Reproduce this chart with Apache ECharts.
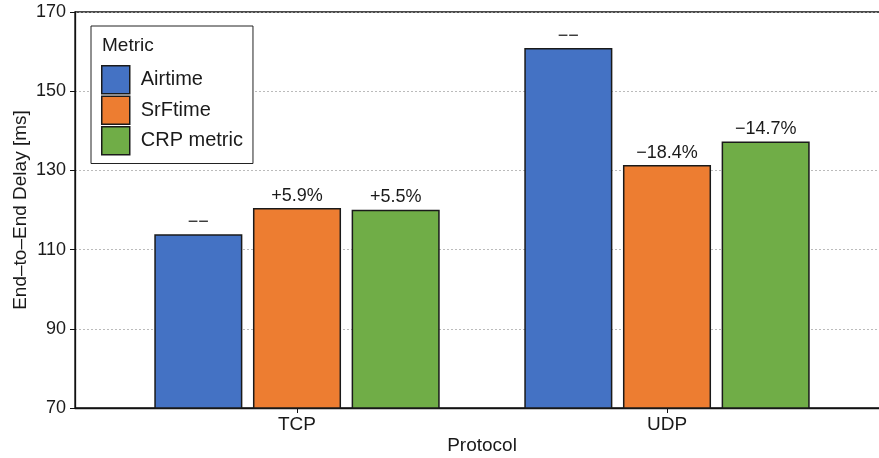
<!DOCTYPE html>
<html><head><meta charset="utf-8">
<script src="https://cdn.jsdelivr.net/npm/echarts@6/dist/echarts.min.js"></script>
<style>html,body{margin:0;padding:0;background:#fff}#c{width:879px;height:458px}</style>
</head><body><div id="c"></div>
<script>
const categories = ['TCP', 'UDP'];
const metrics = ['Airtime', 'SrFtime', 'CRP metric'];
const airtime = [113.7, 160.7];
const srftime = [120.3, 131.2];
const crp = [119.9, 137.1];
const airtimeLabels = ['\u2212\u2212', '\u2212\u2212'];
const srftimeLabels = ['+5.9%', '\u221218.4%'];
const crpLabels = ['+5.5%', '\u221214.7%'];
const yMin = 70, yMax = 170, yStep = 20;

const colors = ['#4472C4', '#ED7D31', '#70AD47'];
const FONT = '"Liberation Sans", Arial, Helvetica, sans-serif';
const slot = 0.8 / 3;
const bw = 0.234;

const seriesValues = [airtime, srftime, crp];
const seriesLabels = [airtimeLabels, srftimeLabels, crpLabels];

function makeRender(k) {
  return function (params, api) {
    const x = api.value(0) + (k - 1) * slot;
    const y = api.value(1);
    const p1 = api.coord([x - bw / 2, y]);
    const p2 = api.coord([x + bw / 2, yMin]);
    return {
      type: 'group',
      children: [
        { type: 'rect', shape: { x: p1[0], y: p1[1], width: p2[0] - p1[0], height: p2[1] - p1[1] },
          style: { fill: colors[k], stroke: '#1a1a1a', lineWidth: 1.5 } },
        { type: 'text', style: { text: seriesLabels[k][params.dataIndex], x: (p1[0] + p2[0]) / 2, y: p1[1] - 4,
          align: 'center', verticalAlign: 'bottom', fontSize: 18, fontFamily: FONT, fill: '#1a1a1a' } }
      ]
    };
  };
}

const chart = echarts.init(document.getElementById('c'), null, { renderer: 'canvas' });
chart.setOption({
  animation: false,
  backgroundColor: '#fff',
  grid: { left: 75, top: 12, height: 396, width: 814, outerBoundsMode: 'none', containLabel: false,
    show: true, borderColor: '#111', borderWidth: 1.3 },
  xAxis: {
    type: 'value', min: -0.6, max: 1.6,
    name: 'Protocol', nameLocation: 'middle', nameGap: 28, nameMoveOverlap: false,
    nameTextStyle: { fontSize: 19, fontFamily: FONT, color: '#1a1a1a' },
    axisLine: { show: true, onZero: false, lineStyle: { color: '#111', width: 1.3 } },
    axisTick: { show: true, length: 5, customValues: [0, 1], lineStyle: { color: '#111' } },
    axisLabel: { customValues: [0, 1], margin: 7, fontSize: 19, fontFamily: FONT, color: '#1a1a1a',
      formatter: v => categories[Math.round(v)] },
    splitLine: { show: false }
  },
  yAxis: {
    type: 'value', min: yMin, max: yMax, interval: yStep,
    name: 'End\u2013to\u2013End Delay [ms]', nameLocation: 'middle', nameGap: 45, nameMoveOverlap: false,
    nameTextStyle: { fontSize: 19, fontFamily: FONT, color: '#1a1a1a' },
    axisLine: { show: true, onZero: false, lineStyle: { color: '#111', width: 1.3 } },
    axisTick: { show: true, length: 5, lineStyle: { color: '#111' } },
    axisLabel: { margin: 9, fontSize: 18, fontFamily: FONT, color: '#1a1a1a' },
    splitLine: { show: true, lineStyle: { color: '#aaa', width: 0.8, type: [2, 2] } }
  },
  legend: {
    orient: 'vertical', left: 91, top: 26,
    padding: [39, 10, 8, 10],
    itemWidth: 28, itemHeight: 28, itemGap: 1, icon: 'rect',
    borderColor: '#222', borderWidth: 1, backgroundColor: '#fff',
    itemStyle: { borderColor: '#1a1a1a', borderWidth: 1.5 },
    textStyle: { fontSize: 20, fontFamily: FONT, color: '#1a1a1a', padding: [0, 0, 0, 6] },
    data: metrics
  },
  graphic: [{
    type: 'text', left: 102, top: 36, z: 100,
    style: { text: 'Metric', fontSize: 19, fontFamily: FONT, fill: '#1a1a1a' }
  }],
  series: metrics.map((m, k) => ({
    name: m, type: 'custom',
    itemStyle: { color: colors[k] },
    renderItem: makeRender(k),
    encode: { x: 0, y: 1 },
    data: categories.map((c, i) => [i, seriesValues[k][i]])
  }))
});
</script></body></html>
